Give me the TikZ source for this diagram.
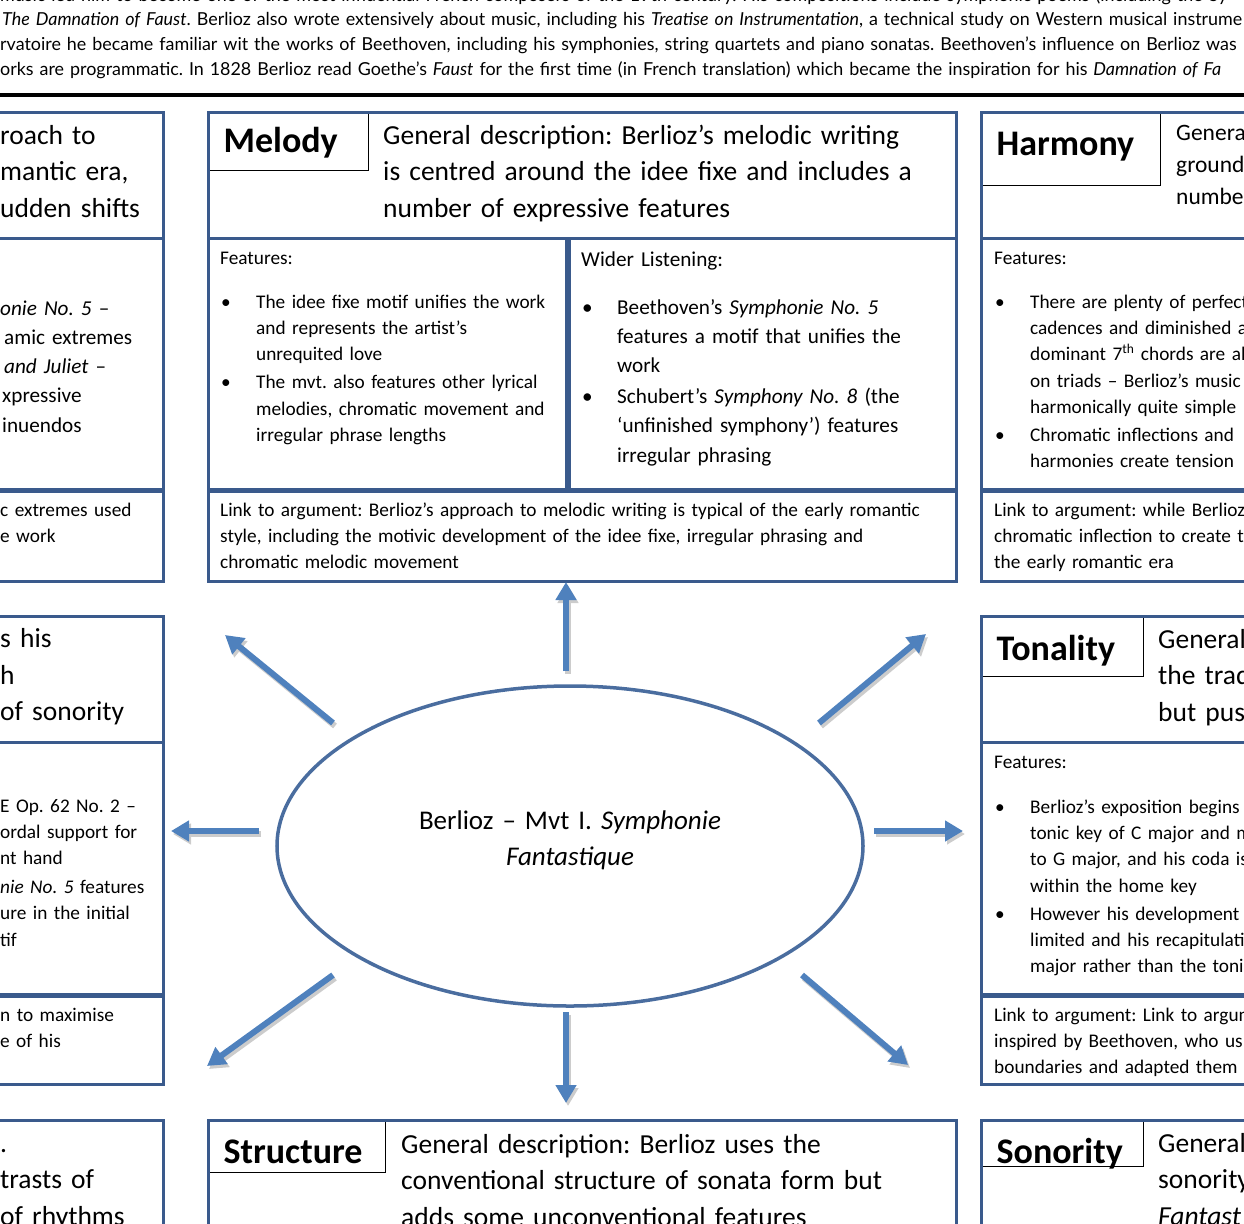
\documentclass[tikz,border=0pt]{standalone}
\usepackage{fontspec}
\setmainfont{Carlito}
\newfontfamily\gillfont{Lato}
\usetikzlibrary{arrows.meta,shapes.geometric}
\definecolor{frame}{HTML}{3A5A8C}
\definecolor{ray}{HTML}{4F81BD}
\definecolor{rim}{HTML}{4A6D9F}

\newcommand\descfont{\fontsize{27.5bp}{36.5bp}\selectfont}
\newcommand\hubfont{\fontsize{27bp}{36.5bp}\selectfont}
\newcommand\midfont{\fontsize{23.5bp}{32bp}\selectfont}
\newcommand\listfont{\fontsize{21.2bp}{29.3bp}\selectfont}
\newcommand\smallfont{\fontsize{19.3bp}{26.4bp}\selectfont}
\newcommand\tagfont{\fontsize{36bp}{40bp}\selectfont\bfseries}
\newcommand\topfont{\gillfont\fontsize{17.9bp}{25bp}\selectfont}
% one bullet point with hanging indent
\newcommand\bit[1]{\setlength\parskip{1.5bp}\hangindent=35bp\hangafter=1\noindent
  \let\\\newline\makebox[35bp][l]{\textbullet}#1\par}

\begin{document}
\frenchspacing
\begin{tikzpicture}[x=1bp, y=-1bp,
  panel/.style={draw=frame, line width=3bp, inner sep=0pt, anchor=north west},
  tag/.style={draw=black, line width=1.2bp, anchor=north west, inner ysep=0pt,
    inner xsep=16bp, align=left, font=\tagfont},
  textblock/.style={anchor=base west, inner sep=0pt, align=left, text width=#1},
  textblock/.default=900bp,
  ray/.style={draw=ray, line width=6bp, -{Triangle[length=18bp,width=20bp]}},
  rayshade/.style={draw=black!20, line width=6bp, -{Triangle[length=18bp,width=20bp]}}]
\useasboundingbox (0,0) rectangle (1244,1224);
\clip (0,0) rectangle (1244,1224);

% intro paragraph above the rule
\node[textblock=1400bp, font=\topfont] (intro1) at (0,1) {music led him to become one of the most influential French composers of the 19th century. His compositions include symphonic poems (including the Sy};
\node[textblock=1400bp, font=\topfont] (intro2) at (2,25) {\textit{The Damnation of Faust}. Berlioz also wrote extensively about music, including his \textit{Treatise on Instrumentation}, a technical study on Western musical instrume};
\node[textblock=1400bp, font=\topfont] (intro3) at (0,50) {rvatoire he became familiar wit the works of Beethoven, including his symphonies, string quartets and piano sonatas. Beethoven’s influence on Berlioz was};
\node[textblock=1400bp, font=\topfont] (intro4) at (0,75) {orks are programmatic. In 1828 Berlioz read Goethe’s \textit{Faust} for the first time (in French translation) which became the inspiration for his \textit{Damnation of Fa}};
\coordinate (ruleL) at (0,95);
\coordinate (ruleR) at (1244,95);
\draw[line width=4bp] (ruleL) -- (ruleR);

% tags
\node[tag, text width=129bp, minimum height=59bp, text height=26bp, text depth=3bp] (melTag) at (207,111) {Melody};
\node[tag, text width=148bp, minimum height=74bp, text height=26bp, text depth=13bp] (harTag) at (980,111) {Harmony};
\node[tag, text width=131bp, minimum height=61bp, text height=28bp, text depth=0bp] (tonTag) at (980,615) {Tonality};
\node[tag, text width=146bp, minimum height=53bp, text height=34bp, text depth=0bp] (strTag) at (207,1119) {Structure};
\node[tag, text width=131bp, minimum height=47bp, text height=40bp, text depth=0bp] (sonTag) at (980,1119) {Sonority};

% panels, left column
\node[panel, minimum width=182bp, minimum height=126bp] (lHead1) at (-20,111) {};
\node[panel, minimum width=182bp, minimum height=251bp] (lFeat1) at (-20,237) {};
\node[panel, minimum width=182bp, minimum height=90bp] (lLink1) at (-20,490) {};
\node[panel, minimum width=182bp, minimum height=126bp] (lHead2) at (-20,615) {};
\node[panel, minimum width=182bp, minimum height=252bp] (lFeat2) at (-20,741) {};
\node[panel, minimum width=182bp, minimum height=88bp] (lLink2) at (-20,995) {};
\node[panel, minimum width=182bp, minimum height=150bp] (lHead3) at (-20,1119) {};

% panels, melody
\node[panel, minimum width=748bp, minimum height=126bp] (melHead) at (207,111) {};
\node[panel, minimum width=358bp, minimum height=251bp] (melFeat) at (207,237) {};
\node[panel, minimum width=387bp, minimum height=251bp] (melWide) at (568,237) {};
\node[panel, minimum width=748bp, minimum height=90bp] (melLink) at (207,490) {};

% panels, right column
\node[panel, minimum width=300bp, minimum height=126bp] (harHead) at (980,111) {};
\node[panel, minimum width=300bp, minimum height=251bp] (harFeat) at (980,237) {};
\node[panel, minimum width=300bp, minimum height=90bp] (harLink) at (980,490) {};
\node[panel, minimum width=300bp, minimum height=126bp] (tonHead) at (980,615) {};
\node[panel, minimum width=300bp, minimum height=252bp] (tonFeat) at (980,741) {};
\node[panel, minimum width=300bp, minimum height=88bp] (tonLink) at (980,995) {};
\node[panel, minimum width=300bp, minimum height=150bp] (sonHead) at (980,1119) {};

% panel, structure
\node[panel, minimum width=748bp, minimum height=150bp] (strHead) at (207,1119) {};

% left column texts
\node[textblock, font=\descfont] (lHead1Txt) at (0,144) {roach to\\mantic era,\\udden shifts};
\node[textblock, font=\listfont] (lFeat1Txt) at (0,315) {\textit{onie No. 5} –\\\hspace*{4bp}amic extremes\\\hspace*{4bp}\textit{and Juliet} –\\\hspace*{2bp}xpressive\\\hspace*{2bp}inuendos};
\node[textblock, font=\smallfont] (lLink1Txt) at (0,516) {c extremes used\\e work};
\node[textblock, font=\descfont] (lHead2Txt) at (0,647.5) {s his\\h\\of sonority};
\node[textblock, font=\smallfont] (lFeat2Txt) at (0,812) {E Op. 62 No. 2 –\\ordal support for\\nt hand\par\vspace{2bp}\textit{nie No. 5} features\\ure in the initial\\tif};
\node[textblock, font=\smallfont] (lLink2Txt) at (0,1021) {n to maximise\\e of his};
\node[textblock, font=\descfont] (lHead3Txt) at (0,1152) {.\\trasts of\\of rhythms};

% melody texts
\node[textblock, font=\descfont] (melDesc) at (383,144) {General description: Berlioz’s melodic writing\\is centred around the idee fixe and includes a\\number of expressive features};
\node[textblock, font=\smallfont] (melFeatHd) at (220,264) {Features:};
\node[textblock=400bp, font=\smallfont] (melFeatList) at (221,308) {\bit{The idee fixe motif unifies the work\\and represents the artist’s\\unrequited love}\bit{The mvt. also features other lyrical\\melodies, chromatic movement and\\irregular phrase lengths}};
\node[textblock, font=\listfont] (melWideHd) at (581,266) {Wider Listening:};
\node[textblock=400bp, font=\listfont] (melWideList) at (582,314) {\bit{Beethoven’s \textit{Symphonie No. 5}\\features a motif that unifies the\\work}\bit{Schubert’s \textit{Symphony No. 8} (the\\‘unfinished symphony’) features\\irregular phrasing}};
\node[textblock, font=\smallfont] (melLinkTxt) at (220,516) {Link to argument: Berlioz’s approach to melodic writing is typical of the early romantic\\style, including the motivic development of the idee fixe, irregular phrasing and\\chromatic melodic movement};

% harmony texts
\node[textblock, font=\midfont] (harDesc) at (1176,140) {Genera\\ground\\numbe};
\node[textblock, font=\smallfont] (harFeatHd) at (994,264) {Features:};
\node[textblock=400bp, font=\smallfont] (harFeatList) at (995,308) {\bit{There are plenty of perfect\\cadences and diminished a\\dominant 7\textsuperscript{th} chords are al\\on triads – Berlioz’s music\\harmonically quite simple}\bit{Chromatic inflections and\\harmonies create tension}};
\node[textblock, font=\smallfont] (harLinkTxt) at (994,516) {Link to argument: while Berlioz\\chromatic inflection to create t\\the early romantic era};

% tonality texts
\node[textblock, font=\descfont] (tonDesc) at (1158,648) {General\\the trad\\but pus};
\node[textblock, font=\smallfont] (tonFeatHd) at (994,768) {Features:};
\node[textblock=400bp, font=\smallfont] (tonFeatList) at (995,813) {\bit{Berlioz’s exposition begins\\tonic key of C major and m\\to G major, and his coda is\\within the home key}\bit{However his development\\limited and his recapitulati\\major rather than the toni}};
\node[textblock, font=\smallfont] (tonLinkTxt) at (994,1021) {Link to argument: Link to argum\\inspired by Beethoven, who us\\boundaries and adapted them};

% structure and sonority texts
\node[textblock, font=\descfont] (strDesc) at (401,1153) {General description: Berlioz uses the\\conventional structure of sonata form but\\adds some unconventional features};
\node[textblock, font=\descfont] (sonDesc) at (1158,1152) {General\\sonority\\\textit{Fantast}};

% centre
\node[draw=rim, line width=3.5bp, ellipse, minimum width=586bp, minimum height=320bp, inner sep=0pt] (hub) at (570,846) {};
\node[textblock=400bp, align=center, anchor=base, font=\hubfont] (hubTxt) at (570,829) {Berlioz – Mvt I. \textit{Symphonie}\\\textit{Fantastique}};

% arrows out of the centre
\coordinate (upT) at (566,671);  \coordinate (upH) at (566,582);
\coordinate (ulT) at (333,723);  \coordinate (ulH) at (225,635);
\coordinate (urT) at (819,723);  \coordinate (urH) at (926,634);
\coordinate (lfT) at (259,831);  \coordinate (lfH) at (171,831);
\coordinate (rtT) at (874,831);  \coordinate (rtH) at (963,831);
\coordinate (llT) at (333,975);  \coordinate (llH) at (207,1066);
\coordinate (dnT) at (566,1012); \coordinate (dnH) at (566,1103);
\coordinate (lrT) at (802,975);  \coordinate (lrH) at (908,1065);
\foreach \a in {up,ul,ur,lf,rt,ll,dn,lr}{
  \draw[rayshade] ([shift={(2,3)}]\a T) -- ([shift={(2,3)}]\a H);
  \draw[ray] (\a T) -- (\a H);
}
\end{tikzpicture}
\end{document}
